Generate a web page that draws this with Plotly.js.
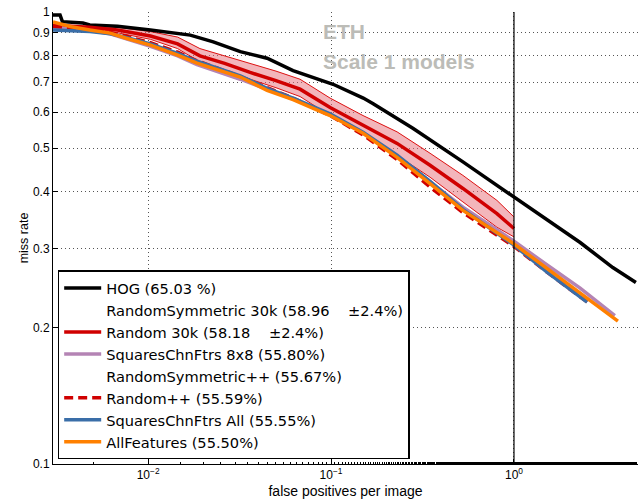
<!DOCTYPE html>
<html>
<head>
<meta charset="utf-8">
<script src="https://cdn.plot.ly/plotly-3.0.1.min.js"></script>
<style>html,body{margin:0;padding:0;background:#fff;}#chart{width:639px;height:501px;}</style>
</head>
<body>
<div id="chart"></div>
<script>
// ---- data (false positives per image vs miss rate) ----
var hogX = [0.00302, 0.0033, 0.0034, 0.0044, 0.0048, 0.0068, 0.0103, 0.017, 0.0227, 0.0319, 0.0447, 0.062, 0.1026, 0.15, 0.17, 0.28, 0.526, 1.0, 1.51, 2.3, 3.47, 4.64];
var hogY = [0.985, 0.985, 0.952, 0.945, 0.936, 0.93, 0.912, 0.889, 0.859, 0.817, 0.79, 0.742, 0.692, 0.645, 0.627, 0.553, 0.466, 0.39, 0.349, 0.309, 0.272, 0.252];

var rnd30X = [0.00302, 0.0048, 0.0068, 0.0103, 0.0145, 0.0192, 0.0262, 0.0361, 0.05, 0.0677, 0.0988, 0.1496, 0.2296, 0.3477, 0.526, 0.807, 1.0];
var rnd30Y = [0.935, 0.925, 0.912, 0.885, 0.85, 0.80, 0.77, 0.735, 0.705, 0.675, 0.615, 0.562, 0.512, 0.458, 0.407, 0.358, 0.332];
var bandX = [0.0048, 0.0068, 0.0103, 0.0145, 0.0192, 0.0262, 0.0361, 0.05, 0.0677, 0.0988, 0.1496, 0.2296, 0.3477, 0.526, 0.807, 1.0];
var bandHi = [0.93, 0.925, 0.905, 0.88, 0.83, 0.80, 0.77, 0.74, 0.71, 0.645, 0.59, 0.543, 0.487, 0.435, 0.383, 0.352];
var bandLo = [0.925, 0.90, 0.87, 0.83, 0.775, 0.745, 0.71, 0.68, 0.65, 0.59, 0.539, 0.482, 0.431, 0.38, 0.334, 0.318];

var rsym30X = [0.00302, 0.0048, 0.0103, 0.0192, 0.0361, 0.0677, 0.1496, 0.3477, 0.807, 1.0];
var rsym30Y = [0.935, 0.924, 0.884, 0.80, 0.738, 0.678, 0.565, 0.46, 0.36, 0.334];

var sq8X = [0.00302, 0.0048, 0.0062, 0.0075, 0.0103, 0.0145, 0.0185, 0.0319, 0.0447, 0.062, 0.0988, 0.1496, 0.2296, 0.3477, 0.526, 0.807, 1.0, 1.51, 2.3, 3.56];
var sq8Y = [0.925, 0.91, 0.895, 0.875, 0.84, 0.80, 0.765, 0.71, 0.675, 0.642, 0.593, 0.54, 0.48, 0.422, 0.37, 0.33, 0.311, 0.276, 0.245, 0.213];

var rsymPPX = [0.00302, 0.0048, 0.0103, 0.0185, 0.0447, 0.0988, 0.2296, 0.526, 1.0, 1.51, 2.5];
var rsymPPY = [0.93, 0.912, 0.85, 0.775, 0.678, 0.592, 0.476, 0.364, 0.306, 0.268, 0.23];

var rndPPX = [0.00302, 0.0048, 0.0062, 0.0075, 0.0103, 0.0145, 0.0185, 0.0319, 0.0447, 0.062, 0.0988, 0.1496, 0.2296, 0.3477, 0.526, 0.807, 1.0, 1.51, 2.6];
var rndPPY = [0.93, 0.915, 0.90, 0.885, 0.855, 0.815, 0.78, 0.72, 0.68, 0.645, 0.59, 0.535, 0.472, 0.41, 0.36, 0.322, 0.303, 0.266, 0.226];

var sqAllX = [0.00302, 0.0048, 0.0062, 0.0075, 0.0103, 0.0145, 0.0185, 0.0319, 0.0447, 0.062, 0.0988, 0.1496, 0.2296, 0.3477, 0.526, 0.807, 1.0, 1.51, 2.51];
var sqAllY = [0.912, 0.905, 0.895, 0.88, 0.85, 0.81, 0.778, 0.722, 0.678, 0.645, 0.595, 0.542, 0.482, 0.422, 0.366, 0.325, 0.305, 0.266, 0.228];

var allX = [0.00302, 0.0033, 0.0038, 0.0048, 0.0062, 0.0075, 0.0103, 0.0145, 0.0185, 0.0319, 0.0447, 0.062, 0.0988, 0.1496, 0.2296, 0.3477, 0.526, 0.807, 1.0, 1.22, 1.51, 2.3, 3.7];
var allY = [0.95, 0.94, 0.928, 0.912, 0.898, 0.876, 0.845, 0.803, 0.771, 0.718, 0.671, 0.64, 0.59, 0.539, 0.477, 0.417, 0.364, 0.325, 0.307, 0.289, 0.271, 0.239, 0.207];

var names = ['HOG (65.03 %)',
  'RandomSymmetric 30k (58.96\u00a0\u00a0\u00a0\u00a0\u00b12.4%)',
  'Random 30k (58.18\u00a0\u00a0\u00a0\u00a0\u00b12.4%)',
  'SquaresChnFtrs 8x8 (55.80%)',
  'RandomSymmetric++ (55.67%)',
  'Random++ (55.59%)',
  'SquaresChnFtrs All (55.55%)',
  'AllFeatures (55.50%)'];

var yTicks = [0.1, 0.2, 0.3, 0.4, 0.5, 0.6, 0.7, 0.8, 0.9, 1];
var yTickText = ['0.1', '0.2', '0.3', '0.4', '0.5', '0.6', '0.7', '0.8', '0.9', '1'];
var xTicks = [0.01, 0.1, 1];
var xTickText = ['10<sup>\u22122</sup>', '10<sup>\u22121</sup>', '10<sup>0</sup>'];

// ---- traces ----
var traces = [
  {x: bandX, y: bandHi, mode: 'lines', line: {color: '#dd1111', width: 1}, showlegend: false, hoverinfo: 'skip'},
  {x: bandX, y: bandLo, mode: 'lines', line: {color: '#dd1111', width: 1}, fill: 'tonexty', fillcolor: 'rgba(232,110,120,0.5)', showlegend: false, hoverinfo: 'skip'},
  {x: hogX, y: hogY, name: names[0], mode: 'lines', line: {color: '#000000', width: 3.5}},
  {x: rsym30X, y: rsym30Y, name: names[1], mode: 'lines', line: {color: 'rgba(255,255,255,0)', width: 3}},
  {x: rnd30X, y: rnd30Y, name: names[2], mode: 'lines', line: {color: '#d00000', width: 3.5}},
  {x: sq8X, y: sq8Y, name: names[3], mode: 'lines', line: {color: '#b484b4', width: 3.5}},
  {x: rsymPPX, y: rsymPPY, name: names[4], mode: 'lines', line: {color: 'rgba(255,255,255,0)', width: 3}},
  {x: rndPPX, y: rndPPY, name: names[5], mode: 'lines', line: {color: '#d00000', width: 3.5, dash: '9px,5px'}},
  {x: sqAllX, y: sqAllY, name: names[6], mode: 'lines', line: {color: '#3a6ea8', width: 3.5}},
  {x: allX, y: allY, name: names[7], mode: 'lines', line: {color: '#ff8000', width: 3.5}}
];

var layout = {
  width: 639, height: 501,
  margin: {l: 53, r: 1, t: 12, b: 37, pad: 0},
  paper_bgcolor: '#ffffff', plot_bgcolor: '#ffffff',
  font: {family: 'Liberation Sans, Arial, sans-serif', size: 12, color: '#000'},
  showlegend: true,
  xaxis: {
    type: 'log', range: [Math.log10(0.00302), 0.678],
    tickvals: xTicks, ticktext: xTickText,
    ticks: 'inside', ticklen: 5, tickcolor: '#000', tickwidth: 1,
    showline: true, linecolor: '#000', linewidth: 1, mirror: false,
    showgrid: true, gridcolor: '#555', griddash: '1px,3px', gridwidth: 1,
    zeroline: false,
    minor: {ticks: 'inside', ticklen: 2, tickcolor: '#000', showgrid: false},
    tickfont: {size: 12, family: 'Liberation Sans, Arial, sans-serif'},
    title: {text: 'false positives per image', font: {size: 14, family: 'Liberation Sans, Arial, sans-serif'}, standoff: 4},
    fixedrange: true
  },
  yaxis: {
    type: 'log', range: [-1, 0],
    tickvals: yTicks, ticktext: yTickText,
    ticks: 'inside', ticklen: 5, tickcolor: '#000', tickwidth: 1,
    showline: true, linecolor: '#000', linewidth: 1, mirror: false,
    showgrid: true, gridcolor: '#555', griddash: '1px,3px', gridwidth: 1,
    zeroline: false,
    tickfont: {size: 12, family: 'Liberation Sans, Arial, sans-serif'},
    title: {text: 'miss rate', font: {size: 12.5, family: 'Liberation Sans, Arial, sans-serif'}, standoff: 1},
    fixedrange: true
  },
  legend: {
    x: 0.008, y: 0.01, xanchor: 'left', yanchor: 'bottom',
    bgcolor: '#ffffff', bordercolor: '#000', borderwidth: 1.5,
    font: {family: 'DejaVu Sans, sans-serif', size: 14.6, color: '#000'},
    itemwidth: 37, traceorder: 'normal'
  },
  shapes: [
    {type: 'line', xref: 'x', yref: 'paper', x0: 1, x1: 1, y0: 0, y1: 1, line: {color: '#000', width: 1.2}, layer: 'above'}
  ],
  annotations: [
    {text: '<b>ETH</b>', xref: 'paper', yref: 'paper', x: 0.458, y: (464 - 32) / 452, xanchor: 'left', yanchor: 'middle', showarrow: false,
     font: {family: 'Liberation Sans, Arial, sans-serif', size: 21, color: '#bcbcb7'}},
    {text: '<b>Scale 1 models</b>', xref: 'paper', yref: 'paper', x: 0.458, y: (464 - 61) / 452, xanchor: 'left', yanchor: 'middle', showarrow: false,
     font: {family: 'Liberation Sans, Arial, sans-serif', size: 21, color: '#bcbcb7'}}
  ],
  hovermode: false
};

Plotly.newPlot('chart', traces, layout, {displayModeBar: false, staticPlot: true});
</script>
</body>
</html>
